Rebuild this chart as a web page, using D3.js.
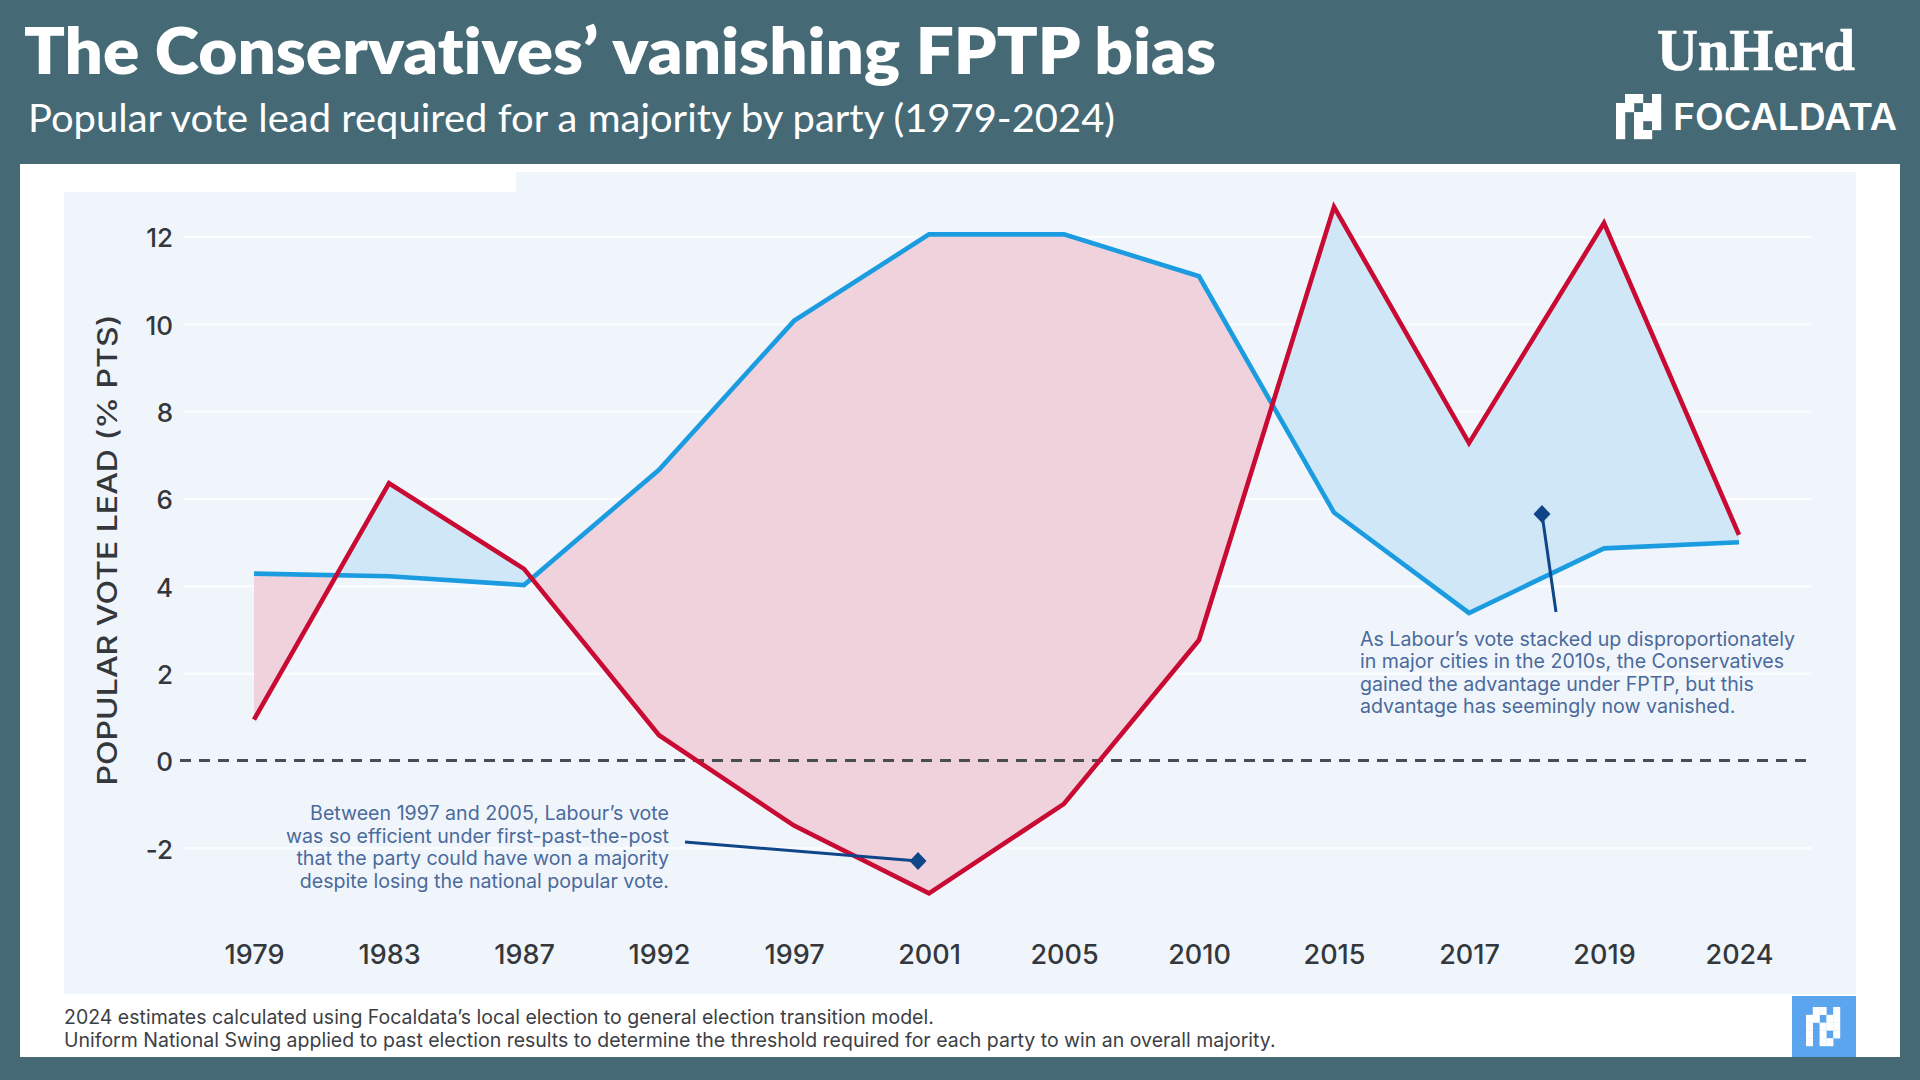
<!DOCTYPE html>
<html><head><meta charset="utf-8">
<script src="https://cdn.jsdelivr.net/npm/d3@7/dist/d3.min.js"></script>
<style>html,body{margin:0;padding:0;background:#456a76;overflow:hidden}svg{display:block}text{font-variant-ligatures:none}</style>
</head><body><svg id="c" width="1920" height="1080"></svg>
<script>
const years = ["1979","1983","1987","1992","1997","2001","2005","2010","2015","2017","2019","2024"];
const blueValues = [4.29,4.23,4.03,6.67,10.08,12.06,12.06,11.1,5.69,3.39,4.87,5.01];
const redValues = [0.95,6.36,4.4,0.59,-1.48,-3.03,-0.98,2.77,12.69,7.28,12.32,5.18];
const yTicks = [-2,0,2,4,6,8,10,12];
const noteLeft = ["Between 1997 and 2005, Labour\u2019s vote","was so efficient under first-past-the-post","that the party could have won a majority","despite losing the national popular vote."];
const noteRight = ["As Labour\u2019s vote stacked up disproportionately","in major cities in the 2010s, the Conservatives","gained the advantage under FPTP, but this","advantage has seemingly now vanished."];
const footnotes = ["2024 estimates calculated using Focaldata\u2019s local election to general election transition model.","Uniform National Swing applied to past election results to determine the threshold required for each party to win an overall majority."];
const logoCells = [[1,0],[2,0],[4,0],[0,1],[1,1],[3,1],[4,1],[0,2],[2,2],[3,2],[4,2],[0,3],[2,3],[4,3],[0,4],[2,4],[3,4]];

const svg = d3.select("#c");
const panel="#f0f5fc", ink="#34383d", noteInk="#4a6a9b", navy="#0f4689";
const x = d3.scalePoint().domain(years).range([254,1739]);
const y = d3.scaleLinear().domain([0,12]).range([761,237]);
const rows = years.map((yr,i)=>({yr,b:blueValues[i],r:redValues[i]}));

// panels
svg.append("rect").attr("x",20).attr("y",164).attr("width",1880).attr("height",893).attr("fill","#fff");
svg.append("rect").attr("x",64).attr("y",192).attr("width",1792).attr("height",802).attr("fill",panel);
svg.append("rect").attr("x",516).attr("y",172).attr("width",1340).attr("height",21).attr("fill",panel);

// header
const head=(t,xp,yp,fs,fw,fam,len)=>svg.append("text").attr("x",xp).attr("y",yp).attr("fill","#fff")
  .attr("font-family",fam).attr("font-size",fs).attr("font-weight",fw).attr("textLength",len).attr("lengthAdjust","spacingAndGlyphs").text(t);
head("The Conservatives\u2019 vanishing FPTP bias",24,74,64,800,"Lato",1192);
head("Popular vote lead required for a majority by party (1979-2024)",28,132,38,400,"Lato",1087);
head("UnHerd",1657,70,60,700,"Liberation Serif",198).attr("stroke","#fff").attr("stroke-width",0.7);
head("FOCALDATA",1673,130,37,600,"Inter",224);
svg.append("g").selectAll("rect").data(logoCells).join("rect")
  .attr("x",d=>1616+d[0]*9).attr("y",d=>94+d[1]*9).attr("width",9.2).attr("height",9.2).attr("fill","#fff");

// grid
svg.append("g").selectAll("line").data(yTicks.filter(d=>d!==0)).join("line")
  .attr("x1",184).attr("x2",1812).attr("y1",d=>y(d)).attr("y2",d=>y(d)).attr("stroke","#fff").attr("stroke-width",2.5).attr("stroke-opacity",0.7);

// fills between the two lines, split by which line is on top
const defs=svg.append("defs");
const aboveRed=d3.area().x(d=>x(d.yr)).y0(d=>y(d.r)).y1(0);
const belowRed=d3.area().x(d=>x(d.yr)).y0(d=>y(d.r)).y1(1080);
defs.append("clipPath").attr("id","aboveRed").append("path").attr("d",aboveRed(rows));
defs.append("clipPath").attr("id","belowRed").append("path").attr("d",belowRed(rows));
const between=d3.area().x(d=>x(d.yr)).y0(d=>y(d.r)).y1(d=>y(d.b));
svg.append("path").attr("d",between(rows)).attr("fill","#f0d2dc").attr("clip-path","url(#aboveRed)");
svg.append("path").attr("d",between(rows)).attr("fill","#d0e7f8").attr("clip-path","url(#belowRed)");

// zero line
svg.append("line").attr("x1",180).attr("x2",1810).attr("y1",y(0)-0.5).attr("y2",y(0)-0.5)
  .attr("stroke","#4a4e52").attr("stroke-width",2.8).attr("stroke-dasharray","11 8");

// lines
const lineOf=k=>d3.line().x(d=>x(d.yr)).y(d=>y(d[k]))(rows);
svg.append("path").attr("d",lineOf("b")).attr("fill","none").attr("stroke","#1b9ce0").attr("stroke-width",4.6).attr("stroke-linejoin","miter");
svg.append("path").attr("d",lineOf("r")).attr("fill","none").attr("stroke","#c90a32").attr("stroke-width",4.6).attr("stroke-linejoin","miter");

// axes
const ax=svg.append("g").attr("transform","translate(0,955)").call(d3.axisBottom(x).tickSize(0).tickPadding(0));
ax.select(".domain").remove();
ax.selectAll("text").attr("dy","0.35em").attr("font-family","Inter").attr("font-size",27).attr("font-weight",500).attr("fill",ink);
const ay=svg.append("g").attr("transform","translate(173,1.5)").call(d3.axisLeft(y).tickValues(yTicks).tickSize(0).tickPadding(0).tickFormat(d3.format("d")));
ay.select(".domain").remove();
ay.selectAll("text").attr("font-family","Inter").attr("font-size",26).attr("font-weight",500).attr("fill",ink).text(d=>String(d));
svg.append("text").attr("transform","translate(117,550) rotate(-90)").attr("text-anchor","middle")
  .attr("font-family","Inter").attr("font-size",27).attr("font-weight",500).attr("fill",ink)
  .attr("textLength",471).attr("lengthAdjust","spacingAndGlyphs").text("POPULAR VOTE LEAD (% PTS)");

// notes
const note=(lines,xp,y0,step,anchor)=>svg.append("g").selectAll("text").data(lines).join("text")
  .attr("x",xp).attr("y",(d,i)=>y0+i*step).attr("text-anchor",anchor).attr("fill",noteInk)
  .attr("font-family","Inter").attr("font-size",19.6).attr("font-weight",400).text(d=>d);
note(noteLeft,669,820,22.6,"end");
note(noteRight,1360,646,22.4,"start");

const callout=(x1,y1,x2,y2)=>{
  svg.append("line").attr("x1",x1).attr("y1",y1).attr("x2",x2).attr("y2",y2).attr("stroke",navy).attr("stroke-width",3);
  svg.append("path").attr("d","M0,-9L8.5,0L0,9L-8.5,0Z").attr("transform",`translate(${x2},${y2})`).attr("fill",navy);
};
callout(685,842,918,861);
callout(1556,612,1542,514);

// footnotes
svg.append("g").selectAll("text").data(footnotes).join("text").attr("x",64).attr("y",(d,i)=>1023.5+i*23)
  .attr("fill","#3c4044").attr("font-family","Inter").attr("font-size",19.5).text(d=>d);

// corner badge
svg.append("rect").attr("x",1792).attr("y",996).attr("width",64).attr("height",61).attr("fill","#5ba4ee");
svg.append("g").selectAll("rect").data(logoCells).join("rect")
  .attr("x",d=>1806+d[0]*6.8).attr("y",d=>1007+d[1]*7.8).attr("width",7).attr("height",8).attr("fill","#fff");
</script></body></html>
